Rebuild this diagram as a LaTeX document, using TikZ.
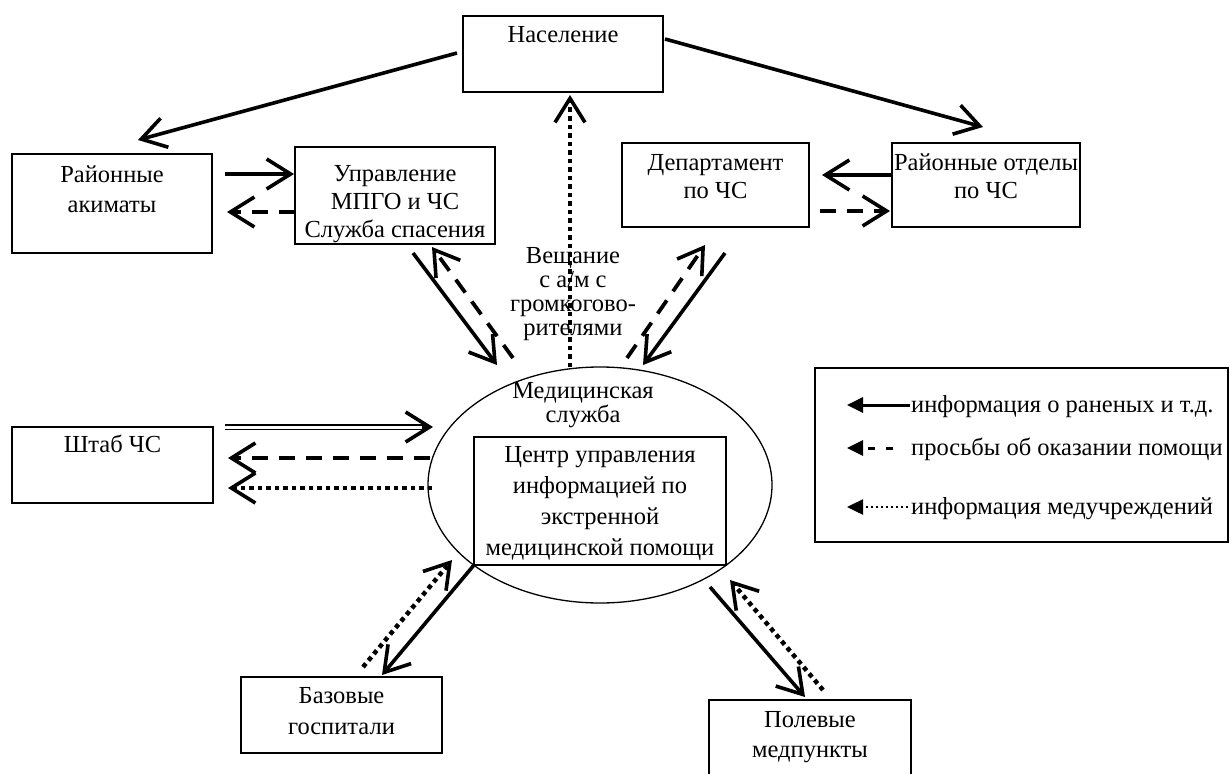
\documentclass[tikz,border=0pt]{standalone}
\usepackage{fontspec}
\setmainfont{Liberation Serif}
\usetikzlibrary{arrows.meta,shapes.geometric,calc}
\begin{document}
\begin{tikzpicture}[x=1pt,y=-1pt,
  box/.style={draw, line width=1.8pt, inner sep=0pt, outer sep=0pt},
  txt/.style={font=\fontsize{24.5}{29}\selectfont, align=center, inner sep=0pt, anchor=base},
  barb/.style={-{Straight Barb[length=24pt,width=30pt,line width=3.6pt]}},
  sol/.style={barb, line width=3.6pt},
  dsh/.style={barb, line width=3.8pt, dash pattern=on 16pt off 11pt},
  dot/.style={barb, line width=4.5pt, dash pattern=on 4.5pt off 4pt},
  lhead/.style={-{Triangle[length=16pt,width=15pt]}},
]
\path[use as bounding box] (0,0) rectangle (1230,773);
\clip (0,0) rectangle (1230,773);
\fill[white] (0,0) rectangle (1230,773);

% boxes (text nodes: anchor base = baseline of the last line)
\node[box, minimum width=200pt, minimum height=76pt] (pop) at (563,54) {};
\node[txt] (popT) at (563,43) {Население};
\node[box, minimum width=200pt, minimum height=99pt] (akim) at (112,203.5) {};
\node[txt, font=\fontsize{24.5}{30}\selectfont] (akimT) at (112,212) {Районные\\акиматы};
\node[box, minimum width=200pt, minimum height=97pt] (upr) at (395,195.5) {};
\node[txt, font=\fontsize{24.5}{28}\selectfont] (uprT) at (395,237) {Управление\\МПГО и ЧС\\Служба спасения};
\node[box, minimum width=187pt, minimum height=84pt] (dep) at (715.5,185) {};
\node[txt, font=\fontsize{24.5}{28}\selectfont] (depT) at (715.5,198) {Департамент\\по ЧС};
\node[box, minimum width=188pt, minimum height=84pt] (rotd) at (986,185) {};
\node[txt, font=\fontsize{24.5}{28}\selectfont] (rotdT) at (986,198) {Районные отделы\\по ЧС};
\node[box, minimum width=201pt, minimum height=76pt] (shtab) at (112.5,465) {};
\node[txt] (shtabT) at (112.5,452) {Штаб ЧС};
\node[box, minimum width=201pt, minimum height=76pt] (baz) at (341.5,715) {};
\node[txt, font=\fontsize{24.5}{31}\selectfont] (bazT) at (341.5,734) {Базовые\\госпитали};
\node[box, minimum width=202pt, minimum height=78pt] (pol) at (810,739) {};
\node[txt, font=\fontsize{24.5}{30}\selectfont] (polT) at (810,757) {Полевые\\медпункты};

% central ellipse
\node[ellipse, draw, line width=1.3pt, minimum width=344pt, minimum height=236pt, inner sep=0pt, outer sep=0pt] (ell) at (600,485) {};
\node[txt, font=\fontsize{24.5}{24}\selectfont] (medT) at (583,422) {Медицинская\\служба};
\node[box, minimum width=252pt, minimum height=128pt] (cent) at (600,501) {};
\node[txt, font=\fontsize{24.5}{31}\selectfont] (centT) at (600,555) {Центр управления\\информацией по\\экстренной\\медицинской помощи};

% broadcast label
\node[txt, font=\fontsize{24.5}{24}\selectfont] (vesh) at (573,335) {Вещание\\с а/м с\\громкогово-\\рителями};

% connectors
\draw[sol] ($(pop.west)+(-6,-1)$) -- ($(akim.north)+(26,-14)$);
\draw[sol] ($(pop.east)+(2,-15)$) -- ($(rotd.north)+(-3,-16)$);
\draw[sol] ($(akim.east)+(13,-29.5)$) -- ($(upr.west)+(-1,-21.5)$);
\draw[dsh] ($(upr.west)+(0,16.5)$) -- ($(akim.east)+(15,8.5)$);
\draw[sol] ($(rotd.west)+(0,-10)$) -- ($(dep.east)+(13,-10)$);
\draw[dsh] ($(dep.east)+(11,26)$) -- ($(rotd.west)+(-2,26)$);

\draw[sol] ($(upr.south)+(18,9)$) -- ($(ell.center)+(-103,-120)$);
\draw[dsh] ($(ell.center)+(-87,-127)$) -- ($(upr.south)+(37,3)$);
\draw[dot] ($(ell.north)+(-30,0)$) -- ($(pop.south)+(7,3)$);
\draw[dsh] ($(ell.center)+(27,-127)$) -- ($(dep.south)+(-10.5,18)$);
\draw[sol] ($(dep.south)+(9.5,26)$) -- ($(ell.center)+(43,-120)$);

\draw[double, double distance=3pt, line width=1.2pt] ($(shtab.east)+(12,-38)$) -- ($(ell.west)+(-2,-58)$);
\draw[sol] ($(ell.west)+(-6,-58)$) -- ($(ell.west)+(5,-58)$);
\draw[dsh] ($(ell.west)+(2,-27)$) -- ($(shtab.east)+(15,-7)$);
\draw[dot] ($(ell.west)+(4,3)$) -- ($(shtab.east)+(15,23)$);

\draw[sol] (cent.south west) -- ($(baz.north)+(40.5,-2)$);
\draw[dot] ($(baz.north)+(21.5,-10)$) -- ($(ell.center)+(-148,75)$);
\draw[sol] ($(ell.center)+(110,102)$) -- ($(pol.north)+(-5,-3)$);
\draw[dot] ($(pol.north)+(13,-10)$) -- ($(ell.center)+(130,95)$);

% legend
\node[box, minimum width=413pt, minimum height=174pt] (leg) at (1021.5,455) {};
\node[txt, anchor=base west] (l1) at (911,412) {информация о раненых и т.д.};
\node[txt, anchor=base west] (l2) at (911,455) {просьбы об оказании помощи};
\node[txt, anchor=base west] (l3) at (911,514) {информация медучреждений};
\draw[lhead, line width=3pt] ($(l1.base west)+(-1,-7)$) -- ++(-63,0);
\draw[lhead, line width=3pt, dash pattern=on 7pt off 11pt] ($(l2.base west)+(-18,-7)$) -- ++(-46,0);
\draw[lhead, line width=2.5pt, dash pattern=on 2.5pt off 2.5pt] ($(l3.base west)+(-3,-7)$) -- ++(-61,0);
\end{tikzpicture}
\end{document}
